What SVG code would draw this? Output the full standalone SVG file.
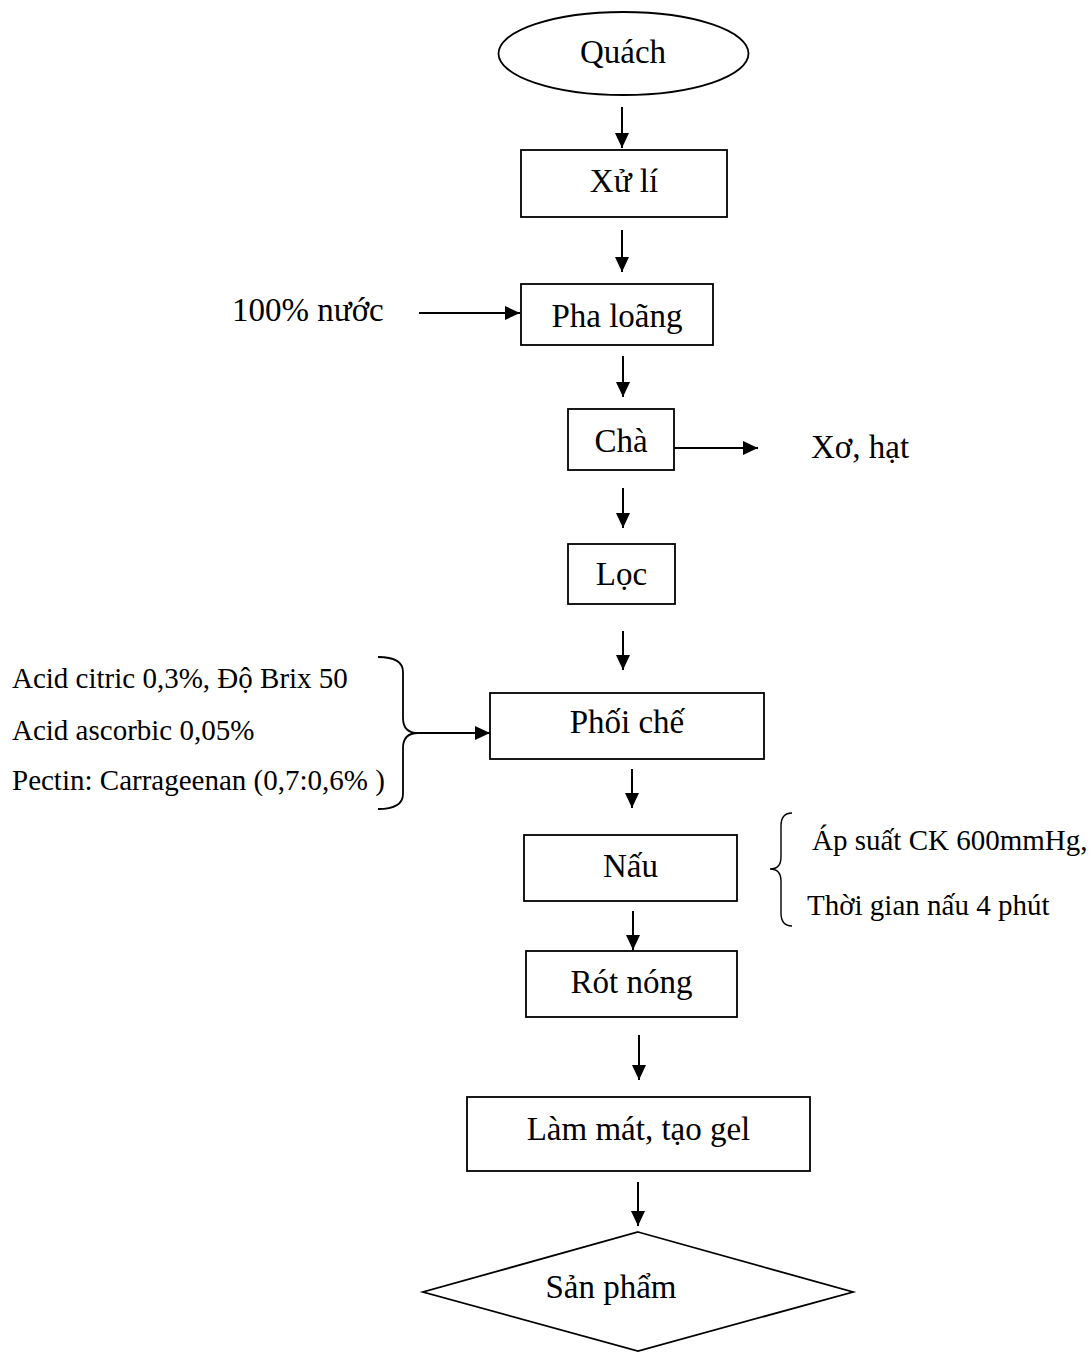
<svg xmlns="http://www.w3.org/2000/svg" width="1092" height="1352" viewBox="0 0 1092 1352">
<defs>
<marker id="ah" viewBox="0 0 15 14" refX="15" refY="7" markerWidth="15" markerHeight="14" markerUnits="userSpaceOnUse" orient="auto">
<path d="M0,0 L15,7 L0,14 Z" fill="#000"/>
</marker>
<style>
.box{fill:#fff;stroke:#000;stroke-width:1.8}
.lbl{font-family:"Liberation Serif","Times New Roman",serif;font-size:33px;fill:#000;text-anchor:middle}
.side{font-family:"Liberation Serif","Times New Roman",serif;font-size:29px;fill:#000}
.big{font-size:33px}
.arr{stroke:#000;stroke-width:2;fill:none}
.brace{stroke:#000;stroke-width:1.8;fill:none}
</style>
</defs>
<rect width="1092" height="1352" fill="#fff"/>

<g id="connectors">
<line class="arr" x1="622" y1="107" x2="622" y2="148" marker-end="url(#ah)"/>
<line class="arr" x1="622" y1="230" x2="622" y2="272" marker-end="url(#ah)"/>
<line class="arr" x1="419" y1="313" x2="520" y2="313" marker-end="url(#ah)"/>
<line class="arr" x1="623" y1="356" x2="623" y2="397" marker-end="url(#ah)"/>
<line class="arr" x1="674" y1="448" x2="758" y2="448" marker-end="url(#ah)"/>
<line class="arr" x1="623" y1="488" x2="623" y2="528" marker-end="url(#ah)"/>
<line class="arr" x1="623" y1="631" x2="623" y2="670" marker-end="url(#ah)"/>
<line class="arr" x1="418" y1="733" x2="490" y2="733" marker-end="url(#ah)"/>
<line class="arr" x1="632" y1="769" x2="632" y2="808" marker-end="url(#ah)"/>
<line class="arr" x1="633" y1="911" x2="633" y2="950" marker-end="url(#ah)"/>
<line class="arr" x1="639" y1="1035" x2="639" y2="1080" marker-end="url(#ah)"/>
<line class="arr" x1="638" y1="1182" x2="638" y2="1226" marker-end="url(#ah)"/>
</g>

<g id="n-quach">
<ellipse cx="623.5" cy="53.5" rx="125" ry="41.5" fill="#fff" stroke="#000" stroke-width="1.8"/>
<text class="lbl" x="623" y="63">Quách</text>
</g>
<g id="n-xuli">
<rect class="box" x="521" y="150" width="206" height="67"/>
<text class="lbl" x="624" y="192">Xử lí</text>
</g>
<g id="n-nuoc">
<text class="side big" x="232" y="321">100% nước</text>
</g>
<g id="n-phaloang">
<rect class="box" x="521" y="284" width="192" height="61"/>
<text class="lbl" x="617" y="327">Pha loãng</text>
</g>
<g id="n-cha">
<rect class="box" x="568" y="409" width="106" height="61"/>
<text class="lbl" x="621" y="452">Chà</text>
</g>
<g id="n-xohat">
<text class="side big" x="811" y="458">Xơ, hạt</text>
</g>
<g id="n-loc">
<rect class="box" x="568" y="544" width="107" height="60"/>
<text class="lbl" x="621.5" y="585">Lọc</text>
</g>
<g id="n-phuluc">
<text class="side" x="12" y="688">Acid citric 0,3%, Độ Brix 50</text>
<text class="side" x="12" y="740">Acid ascorbic 0,05%</text>
<text class="side" x="12" y="790">Pectin: Carrageenan (0,7:0,6% )</text>
<path class="brace" d="M378,657 Q403,657 403,672 L403,718 Q403,733 418,733 Q403,733 403,748 L403,794 Q403,809 378,809"/>
</g>
<g id="n-phoiche">
<rect class="box" x="490" y="693" width="274" height="66"/>
<text class="lbl" x="627" y="733">Phối chế</text>
</g>
<g id="n-nau">
<rect class="box" x="524" y="835" width="213" height="66"/>
<text class="lbl" x="630.5" y="877">Nấu</text>
</g>
<g id="n-dieukien">
<path class="brace" style="stroke-width:1.4" d="M792,813 Q781,813 781,826 L781,857 Q781,869 770,869 Q781,869 781,881 L781,913 Q781,926 792,926"/>
<text class="side" x="812" y="850">Áp suất CK 600mmHg,</text>
<text class="side" x="807" y="915">Thời gian nấu 4 phút</text>
</g>
<g id="n-rotnong">
<rect class="box" x="526" y="951" width="211" height="66"/>
<text class="lbl" x="631.5" y="993">Rót nóng</text>
</g>
<g id="n-lammat">
<rect class="box" x="467" y="1097" width="343" height="74"/>
<text class="lbl" x="638.5" y="1140">Làm mát, tạo gel</text>
</g>
<g id="n-sanpham">
<polygon points="638,1232 853,1292 638,1351 423,1292" fill="#fff" stroke="#000" stroke-width="1.8"/>
<text class="lbl" x="611" y="1298">Sản phẩm</text>
</g>
</svg>
